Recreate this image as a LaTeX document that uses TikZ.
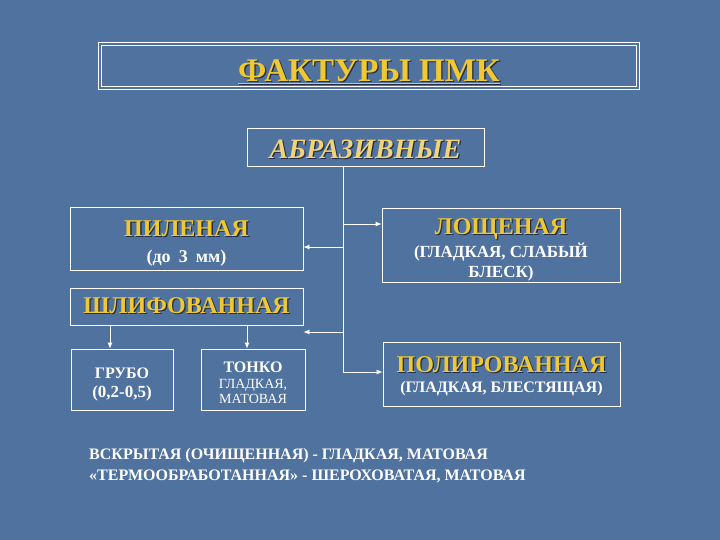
\documentclass[tikz,border=0pt]{standalone}
\usepackage{fontspec}
\setmainfont{Liberation Serif}
\usetikzlibrary{arrows.meta}
\definecolor{bgblue}{RGB}{80,114,158}
\definecolor{gold}{RGB}{240,200,50}
\definecolor{pale}{RGB}{242,212,120}
\definecolor{shade}{RGB}{35,45,70}
\newcommand\shd[2]{\makebox[0pt][l]{\hspace{1.3pt}\raisebox{-1.3pt}{\textcolor{shade}{#2}}}\textcolor{#1}{#2}}
\newcommand\fs[2]{\fontsize{#1}{#2}\selectfont}
\newcommand\strt[1]{\rule{0pt}{#1}}
\begin{document}
\begin{tikzpicture}[x=1pt,y=-1pt,
    box/.style={draw=white, line width=0.8pt, text=white, align=center, inner sep=0pt},
    arr/.style={draw=white, line width=0.8pt, -{Latex[length=6pt,width=5pt]}}]
  \fill[bgblue] (0,0) rectangle (720,540);
  \node[box, double=bgblue, double distance=2pt, minimum width=538pt, minimum height=44pt]
    (title) at (369,66) {\fs{33}{36}\bfseries\raisebox{-6pt}[\height][\depth]{\shd{gold}{\underline{ФАКТУРЫ ПМК}}}};
  \node[box, minimum width=237pt, minimum height=38pt] (abr) at (365.5,147)
    {\fs{28}{30}\bfseries\itshape\raisebox{-3pt}[\height][\depth]{\shd{pale}{АБРАЗИВНЫЕ}}};
  \node[box, minimum width=233pt, minimum height=63pt, font=\fs{18}{26}] (pil) at (186.5,238.5)
    {\strt{26pt}\fs{24}{26}\bfseries\shd{gold}{ПИЛЕНАЯ}\\\bfseries (до\hspace{0.45em}3\hspace{0.45em}мм)};
  \node[box, minimum width=238pt, minimum height=74pt, font=\fs{17}{20}] (los) at (501,245)
    {\strt{26pt}\fs{24}{26}\bfseries\shd{gold}{ЛОЩЕНАЯ}\\[1.5pt]\bfseries (ГЛАДКАЯ, СЛАБЫЙ\\\bfseries БЛЕСК)};
  \node[box, minimum width=233pt, minimum height=37pt] (shl) at (186.5,306.5)
    {\fs{24}{26}\bfseries\shd{gold}{ШЛИФОВАННАЯ}};
  \node[box, minimum width=102pt, minimum height=61pt, font=\fs{16}{19}] (gru) at (122,379.5)
    {\strt{21pt}\bfseries ГРУБО\\\fs{17}{19}\bfseries (0,2-0,5)};
  \node[box, minimum width=104pt, minimum height=61pt, font=\fs{14}{15}] (ton) at (253,379.5)
    {\strt{17pt}\fs{16}{18}\bfseries ТОНКО\\[1pt]ГЛАДКАЯ,\\МАТОВАЯ};
  \node[box, minimum width=237pt, minimum height=64pt, font=\fs{16}{19.5}] (pol) at (501.5,374)
    {\strt{20pt}\fs{24}{26}\bfseries\shd{gold}{ПОЛИРОВАННАЯ}\\\bfseries (ГЛАДКАЯ, БЛЕСТЯЩАЯ)};
  \node[text=white, align=left, anchor=west, inner sep=0pt, font=\fs{16}{21}\bfseries] (note) at (89,465.5)
    {ВСКРЫТАЯ (ОЧИЩЕННАЯ) - ГЛАДКАЯ, МАТОВАЯ\\
     «ТЕРМООБРАБОТАННАЯ» - ШЕРОХОВАТАЯ, МАТОВАЯ};
  \coordinate (tr) at (343,0);
  \coordinate (gap) at ([yshift=-25.5pt]shl.east);
  \begin{scope}[line width=0.8pt, white]
    \draw[arr] (abr.south -| tr) |- ([yshift=2pt]pol.west);
    \draw[arr] ([yshift=-8.5pt]pil.east -| tr) -- ([yshift=-8.5pt]pil.east);
    \draw[arr] ([yshift=21pt]los.west -| tr) -- ([yshift=21pt]los.west);
    \draw[arr] (gap -| tr) -- (gap);
    \draw[arr] ([xshift=-12pt]gru.north |- shl.south) -- ([xshift=-12pt]gru.north);
    \draw[arr] ([xshift=-6pt]ton.north |- shl.south) -- ([xshift=-6pt]ton.north);
  \end{scope}
\end{tikzpicture}
\end{document}
